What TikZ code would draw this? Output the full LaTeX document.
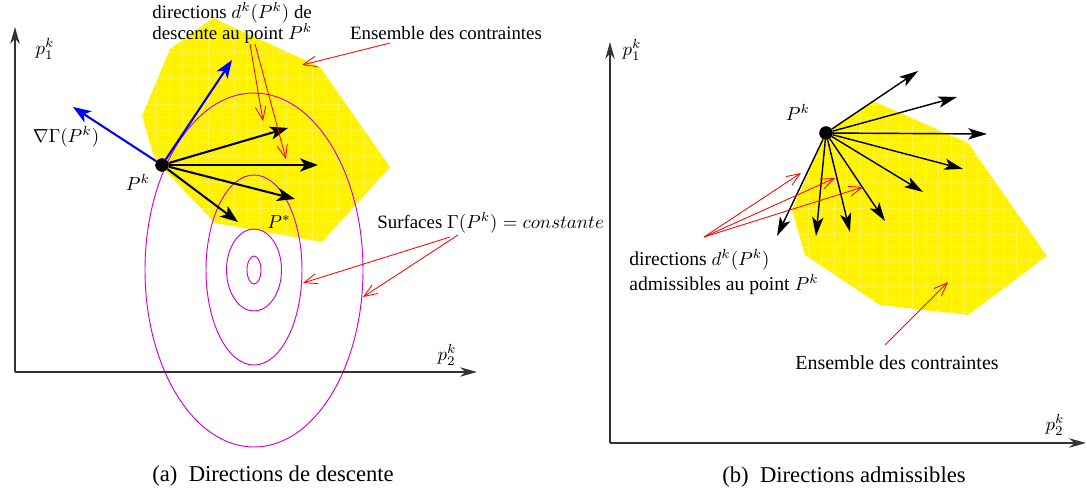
\documentclass[tikz,border=0pt]{standalone}
\usepackage{amsmath,amssymb}
\usepackage[no-math]{fontspec}
\setmainfont{Liberation Serif}
\usepackage{xcolor}
\usepackage{tikz}
\usetikzlibrary{arrows.meta, positioning, calc}
\definecolor{isomag}{RGB}{210,0,210}

\begin{document}
\begin{tikzpicture}[
    x=0.53pt, y=-0.53pt,
    axisarrow/.style={draw=black!80, line width=0.6pt, -{Stealth[length=9pt, width=5pt]}},
    dirthick/.style={line width=1.1pt, -{Stealth[length=9.5pt, width=7pt, inset=2.5pt]}},
    dirthin/.style={line width=0.75pt, -{Stealth[length=10pt, width=6pt, inset=2.5pt]}},
    gradarrow/.style={dirthick, blue},
    notearrow/.style={red, line width=0.45pt, -{Straight Barb[length=7pt, width=5.5pt]}},
    isoline/.style={isomag, line width=0.5pt},
    constraintset/.style={fill=yellow, draw=none},
    gridline/.style={white, opacity=0.25, line width=0.3pt},
    ptdot/.style={circle, fill=black, inner sep=0pt, minimum size=7pt},
    lbl/.style={inner sep=0pt, font=\fontsize{10}{11}\selectfont},
]
\useasboundingbox (0,0) rectangle (1087,495);

%% ---------------- (a) Directions de descente ----------------
%% Constraint set
\path[constraintset] (213,18) -- (320,67) -- (390,167) -- (322,242) -- (215,223)
    -- (155,160) -- (142,116) -- (170,49) -- cycle;
\begin{scope}
  \clip (213,18) -- (320,67) -- (390,167) -- (322,242) -- (215,223)
    -- (155,160) -- (142,116) -- (170,49) -- cycle;
  \foreach \g in {0,13,...,495} {
    \draw[gridline] (\g,0) -- (\g,495);
    \draw[gridline] (0,\g) -- (600,\g);
  }
\end{scope}

%% Level curves
\coordinate (Popt) at (254,270);
\foreach \rx/\ry in {7/14, 27.5/41, 48/95, 109/177}
  \draw[isoline] (Popt) ellipse [x radius=\rx, y radius=\ry];

%% Axes
\coordinate (Oa) at (15,372);
\coordinate (Ya) at (15,27);
\coordinate (Xa) at (477,372);
\draw[axisarrow] (Oa) -- (Ya);
\draw[axisarrow] (Oa) -- (Xa);
\node[lbl] (p1a) at (45,49) {$p_1^k$};
\node[lbl] (p2a) at (447,355) {$p_2^k$};

%% Directions at P^k
\node[ptdot] (Pa) at (162,165) {};
\foreach \i/\tx/\ty in {1/288/128, 2/318/165, 3/295/199, 4/238/222} {
  \coordinate (da\i) at (\tx,\ty);
  \draw[dirthick] (Pa) -- (da\i);
}
\coordinate (ga1) at (232,60);
\coordinate (ga2) at (73,107);
\draw[gradarrow] (Pa) -- (ga1);
\draw[gradarrow] (Pa) -- (ga2);
\node[ptdot] at (Pa) {};

\node[lbl] (Pka) at (138,182) {$P^k$};
\node[lbl] (Pstar) at (279,222) {$P^*$};
\node[lbl] (grad) at (66,137) {$\nabla\Gamma(P^k)$};

%% Annotations
\node[lbl, anchor=west, align=left] (desca) at (152,23)
  {directions $d^k(P^k)$ de\\descente au point $P^k$};
\node[lbl] (ensa) at (446,33) {Ensemble des contraintes};
\node[lbl, anchor=west] (surf) at (377,223) {Surfaces $\Gamma(P^k) = constante$};

\coordinate (na1) at (250,44);  \coordinate (ta1) at (263,121);
\coordinate (na2) at (255,44);  \coordinate (ta2) at (286,159);
\coordinate (na3) at (390,43);  \coordinate (ta3) at (302,65);
\coordinate (na4) at (450,237); \coordinate (ta4) at (303,283);
\coordinate (na5) at (458,235); \coordinate (ta5) at (363,297);
\foreach \i in {1,...,5}
  \draw[notearrow] (na\i) -- (ta\i);

\node[font=\large, inner sep=0pt] (capa) at (273,476) {(a)\enspace Directions de descente};

%% ---------------- (b) Directions admissibles ----------------
\path[constraintset] (826,133) -- (873,101) -- (968,143) -- (1047,256) -- (968,315)
    -- (880,305) -- (805,255) -- (792,210) -- cycle;
\begin{scope}
  \clip (826,133) -- (873,101) -- (968,143) -- (1047,256) -- (968,315)
    -- (880,305) -- (805,255) -- (792,210) -- cycle;
  \foreach \g in {0,13,...,495} {
    \draw[gridline] (600+\g,0) -- (600+\g,495);
    \draw[gridline] (600,\g) -- (1087,\g);
  }
\end{scope}

%% Axes
\coordinate (Ob) at (610,443);
\coordinate (Yb) at (610,42);
\coordinate (Xb) at (1086,443);
\draw[axisarrow] (Ob) -- (Yb);
\draw[axisarrow] (Ob) -- (Xb);
\node[lbl] (p1b) at (632,50) {$p_1^k$};
\node[lbl] (p2b) at (1055,425) {$p_2^k$};

%% Admissible directions
\node[ptdot] (Pb) at (826,133) {};
\foreach \i/\tx/\ty in {1/918/71, 2/957/97, 3/987/134, 4/963/169, 5/923/192,
                        6/885/221, 7/850/232, 8/816/236, 9/777/236} {
  \coordinate (db\i) at (\tx,\ty);
  \draw[dirthin] (Pb) -- (db\i);
}
\node[ptdot] at (Pb) {};
\node[lbl] (Pkb) at (798,112) {$P^k$};

%% Annotations
\node[lbl, anchor=west, align=left, font=\fontsize{10.4}{13}\selectfont] (admb) at (629,272)
  {directions $d^k(P^k)$\\admissibles au point $P^k$};
\node[lbl, font=\fontsize{10.6}{12}\selectfont] (ensb) at (897,363) {Ensemble des contraintes};

\coordinate (nb0) at (704,237);
\foreach \i/\tx/\ty in {1/801/173, 2/835/178, 3/863/187} {
  \coordinate (tb\i) at (\tx,\ty);
  \draw[notearrow] (nb0) -- (tb\i);
}
\coordinate (nb4) at (885,345);
\coordinate (tb4) at (948,282);
\draw[notearrow] (nb4) -- (tb4);

\node[font=\large, inner sep=0pt] (capb) at (844,477) {(b)\enspace Directions admissibles};
\end{tikzpicture}
\end{document}
